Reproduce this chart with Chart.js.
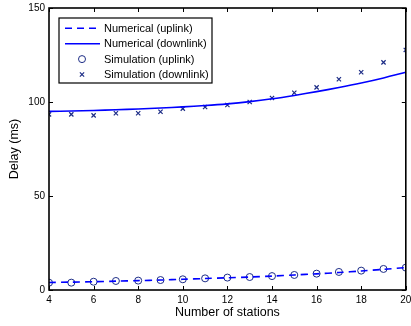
<!DOCTYPE html>
<html>
<head>
<meta charset="utf-8">
<script src="https://cdn.jsdelivr.net/npm/chart.js@4/dist/chart.umd.min.js"></script>
<style>
    html, body { margin: 0; padding: 0; background: #fff; }
    #wrap { width: 411px; height: 326px; position: relative; }
</style>
</head>
<body>
<div id="wrap"><canvas id="delayChart"></canvas></div>
<script>
const stations = [4, 5, 6, 7, 8, 9, 10, 11, 12, 13, 14, 15, 16, 17, 18, 19, 20];

const numUplink = [4.0, 4.2, 4.4, 4.7, 5.0, 5.3, 5.7, 6.1, 6.5, 6.9, 7.4, 8.0, 8.6, 9.3, 10.1, 11.0, 11.9];
const numDownlink = [95.0, 95.2, 95.5, 95.9, 96.3, 96.8, 97.4, 98.1, 99.0, 100.2, 101.7, 103.5, 105.5, 107.7, 110.1, 112.8, 115.8];
const simUplink = [3.9, 3.9, 4.4, 4.8, 5.0, 5.3, 5.7, 6.2, 6.6, 6.9, 7.4, 8.0, 8.7, 9.6, 10.3, 11.2, 11.9];
const simDownlink = [93.4, 93.4, 92.9, 94.0, 94.0, 94.8, 96.5, 97.3, 98.4, 100.0, 102.1, 104.9, 107.8, 112.1, 115.8, 121.1, 127.7];

const xTicks = [4, 6, 8, 10, 12, 14, 16, 18, 20];
const yTicks = [0, 50, 100, 150];

const lineBlue = "#0000ff";
const markNavy = "#1c2c86";
const font = "'Liberation Sans', Arial, Helvetica, sans-serif";

function toPoints(values) {
    return stations.map((s, i) => ({ x: s, y: values[i] }));
}

// box around the axes + inward tick marks, like matlab
const boxPlugin = {
    id: "boxTicks",
    afterDatasetsDraw(chart) {
        const { ctx, chartArea: a, scales } = chart;
        ctx.save();
        ctx.strokeStyle = "#000";
        ctx.lineWidth = 1;
        const len = 4;
        xTicks.forEach(v => {
            const px = Math.round(scales.x.getPixelForValue(v)) + 0.5;
            ctx.beginPath();
            ctx.moveTo(px, a.bottom); ctx.lineTo(px, a.bottom - len);
            ctx.moveTo(px, a.top); ctx.lineTo(px, a.top + len);
            ctx.stroke();
        });
        yTicks.forEach(v => {
            const py = Math.round(scales.y.getPixelForValue(v)) + 0.5;
            ctx.beginPath();
            ctx.moveTo(a.left, py); ctx.lineTo(a.left + len, py);
            ctx.moveTo(a.right, py); ctx.lineTo(a.right - len, py);
            ctx.stroke();
        });
        ctx.lineWidth = 1.6;
        ctx.strokeRect(a.left, a.top, a.right - a.left, a.bottom - a.top);
        ctx.restore();
    }
};

// legend box in the top-left corner of the plot
const legendPlugin = {
    id: "boxLegend",
    afterDraw(chart) {
        const { ctx, chartArea: a } = chart;
        const bx = a.left + 10, by = a.top + 10, bw = 153, bh = 65;
        ctx.save();
        ctx.fillStyle = "#fff";
        ctx.fillRect(bx, by, bw, bh);
        ctx.strokeStyle = "#000";
        ctx.lineWidth = 1.2;
        ctx.strokeRect(bx, by, bw, bh);

        ctx.font = "11px " + font;
        ctx.textBaseline = "middle";
        chart.data.datasets.forEach((ds, i) => {
            const y = by + 10.3 + i * 15.4;
            if (ds.showLine !== false) {
                ctx.strokeStyle = ds.borderColor;
                ctx.lineWidth = ds.borderWidth;
                ctx.setLineDash(ds.borderDash || []);
                ctx.beginPath();
                ctx.moveTo(bx + 6, y);
                ctx.lineTo(bx + 41, y);
                ctx.stroke();
                ctx.setLineDash([]);
            } else {
                ctx.strokeStyle = ds.pointBorderColor;
                ctx.fillStyle = ds.pointBackgroundColor;
                ctx.lineWidth = ds.pointBorderWidth;
                Chart.helpers.drawPoint(ctx, {
                    pointStyle: ds.pointStyle,
                    radius: ds.pointRadius,
                    borderWidth: ds.pointBorderWidth,
                    rotation: 0
                }, bx + 23, y);
            }
            ctx.fillStyle = "#000";
            ctx.fillText(ds.label, bx + 45, y + 0.5);
        });
        ctx.restore();
    }
};

new Chart(document.getElementById("delayChart"), {
    type: "line",
    data: {
        datasets: [
            {
                label: "Numerical (uplink)",
                data: toPoints(numUplink),
                borderColor: lineBlue,
                borderWidth: 1.6,
                borderDash: [7, 5],
                pointRadius: 0,
                tension: 0.3,
                fill: false
            },
            {
                label: "Numerical (downlink)",
                data: toPoints(numDownlink),
                borderColor: lineBlue,
                borderWidth: 1.6,
                pointRadius: 0,
                tension: 0.3,
                fill: false
            },
            {
                label: "Simulation (uplink)",
                data: toPoints(simUplink),
                showLine: false,
                pointStyle: "circle",
                pointRadius: 3.5,
                pointBorderWidth: 1,
                pointBorderColor: markNavy,
                pointBackgroundColor: "rgba(0,0,0,0)",
                borderColor: markNavy
            },
            {
                label: "Simulation (downlink)",
                data: toPoints(simDownlink),
                showLine: false,
                pointStyle: "crossRot",
                pointRadius: 3,
                pointBorderWidth: 1.2,
                pointBorderColor: markNavy,
                pointBackgroundColor: markNavy,
                borderColor: markNavy
            }
        ]
    },
    options: {
        responsive: true,
        maintainAspectRatio: false,
        animation: false,
        layout: {
            padding: { top: 8, right: 4.3, bottom: 0, left: 0 }
        },
        plugins: {
            legend: { display: false },
            tooltip: { enabled: false }
        },
        scales: {
            x: {
                type: "linear",
                min: 4,
                max: 20,
                afterBuildTicks(scale) {
                    scale.ticks = xTicks.map(v => ({ value: v }));
                },
                afterFit(scale) {
                    scale.height = 36;
                    scale.paddingLeft = 0;
                    scale.paddingRight = 0;
                },
                grid: { display: false, drawTicks: false },
                border: { display: false },
                ticks: {
                    color: "#000",
                    padding: 4,
                    maxRotation: 0,
                    autoSkip: false,
                    font: { family: font, size: 10 }
                },
                title: {
                    display: true,
                    text: "Number of stations",
                    color: "#000",
                    padding: { top: 0, bottom: 5.5 },
                    font: { family: font, size: 12.5 }
                }
            },
            y: {
                type: "linear",
                min: 0,
                max: 150,
                afterBuildTicks(scale) {
                    scale.ticks = yTicks.map(v => ({ value: v }));
                },
                afterFit(scale) {
                    scale.width = 49;
                    scale.paddingTop = 0;
                    scale.paddingBottom = 0;
                },
                grid: { display: false, drawTicks: false },
                border: { display: false },
                ticks: {
                    color: "#000",
                    padding: 4,
                    font: { family: font, size: 10 }
                },
                title: {
                    display: true,
                    text: "Delay (ms)",
                    color: "#000",
                    padding: { top: 7.5, bottom: 0 },
                    font: { family: font, size: 12.5 }
                }
            }
        }
    },
    plugins: [boxPlugin, legendPlugin]
});
</script>
</body>
</html>
